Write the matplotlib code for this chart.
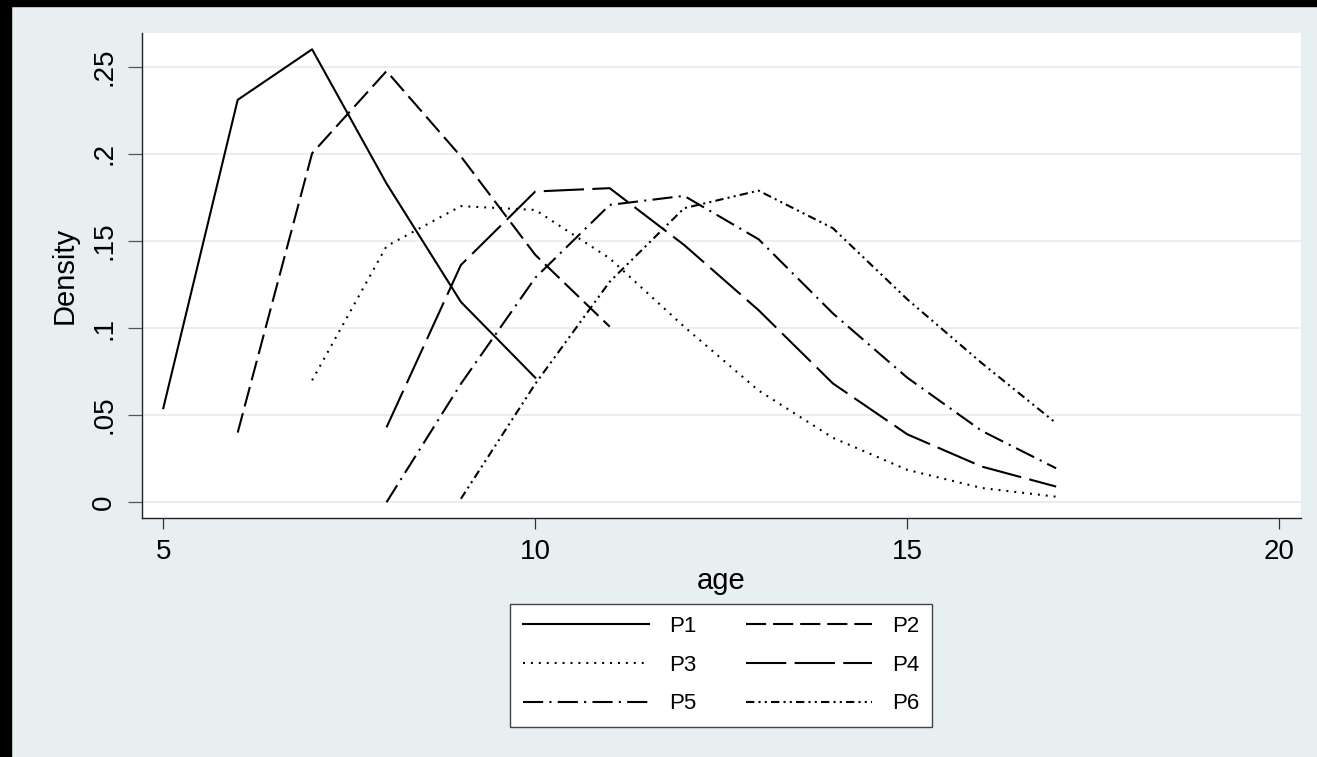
import numpy as np
import matplotlib
matplotlib.use('Agg')
import matplotlib.pyplot as plt
from matplotlib.patches import Rectangle

plt.rcParams['font.family'] = ['Liberation Sans', 'DejaVu Sans']
plt.rcParams['lines.scale_dashes'] = False

# ---------------- dati ----------------
age_p1 = [5, 6, 7, 8, 9, 10]
den_p1 = [0.054, 0.231, 0.260, 0.183, 0.115, 0.0715]

age_p2 = [6, 7, 8, 9, 10, 11]
den_p2 = [0.040, 0.2003, 0.2475, 0.1985, 0.142, 0.1008]

age_p3 = [7, 8, 9, 10, 11, 12, 13, 14, 15, 16, 17]
den_p3 = [0.070, 0.147, 0.170, 0.1678, 0.140, 0.1008, 0.0642, 0.0370, 0.0186, 0.0082, 0.0032]

age_p4 = [8, 9, 10, 11, 12, 13, 14, 15, 16, 17]
den_p4 = [0.0430, 0.1362, 0.1784, 0.1803, 0.1477, 0.1103, 0.0682, 0.0390, 0.0205, 0.009]

age_p5 = [8, 9, 10, 11, 12, 13, 14, 15, 16, 17]
den_p5 = [0.0, 0.068, 0.1289, 0.1707, 0.1759, 0.1510, 0.1084, 0.0715, 0.041, 0.0195]

age_p6 = [9, 10, 11, 12, 13, 14, 15, 16, 17]
den_p6 = [0.002, 0.068, 0.1266, 0.1688, 0.1789, 0.1573, 0.1165, 0.0799, 0.0454]

labels = ['P1', 'P2', 'P3', 'P4', 'P5', 'P6']
styles = ['-',
          (0, (14.5, 5.0)),
          (0, (1.4, 4.3)),
          (0, (29.0, 6.0)),
          (0, (14.5, 4.5, 1.5, 4.5)),
          (0, (6.0, 3.0, 1.5, 3.0, 1.5, 3.0))]

xticks = [5, 10, 15, 20]
yticks = [0, 0.05, 0.1, 0.15, 0.2, 0.25]
ytick_labels = ['0', '.05', '.1', '.15', '.2', '.25']

bg = '#e8eff1'

# ---------------- grafico ----------------
fig = plt.figure(figsize=(13.17, 7.57), dpi=100, facecolor=bg)
ax = fig.add_axes([0.10805, 0.31532, 0.87958, 0.64069])
ax.set_facecolor('white')

series = [(age_p1, den_p1), (age_p2, den_p2), (age_p3, den_p3),
          (age_p4, den_p4), (age_p5, den_p5), (age_p6, den_p6)]
lines = []
for (x, y), lab, ls in zip(series, labels, styles):
    l, = ax.plot(x, y, color='black', lw=1.5, linestyle=ls, label=lab)
    lines.append(l)

ax.set_xlim(4.718, 20.287)
ax.set_ylim(-0.0092, 0.2692)
ax.set_xticks(xticks)
ax.set_yticks(yticks)
ax.set_yticklabels(ytick_labels, rotation=90, va='center')
ax.grid(axis='y', color='#e4ecef', lw=1.2)
ax.set_axisbelow(True)

for s in ['top', 'right']:
    ax.spines[s].set_visible(False)
for s in ['left', 'bottom']:
    ax.spines[s].set_color('#222222')
    ax.spines[s].set_linewidth(1.0)

ax.tick_params(axis='x', length=8, width=0.9, color='#333333', pad=7, labelsize=20)
ax.tick_params(axis='y', length=10, width=0.9, color='#555555', pad=8, labelsize=20)

ax.set_xlabel('age', fontsize=21, labelpad=1)
ax.set_ylabel('Density', fontsize=21, labelpad=9)

# legenda per righe: P1 P2 / P3 P4 / P5 P6
order = [0, 2, 4, 1, 3, 5]
leg = fig.legend([lines[i] for i in order], [labels[i] for i in order],
                 loc='center', bbox_to_anchor=(0.5475, 0.1215), ncol=2,
                 fontsize=16, handlelength=5.7, handletextpad=0.9,
                 columnspacing=2.2, labelspacing=0.8, borderpad=0.55,
                 fancybox=False, framealpha=1, edgecolor='#444444')
leg.get_frame().set_linewidth(1.0)

# bordo nero dello screenshot (alto e sinistra)
fig.patches.append(Rectangle((0, 0), 11/1317, 1, transform=fig.transFigure,
                             color='black', zorder=10))
fig.patches.append(Rectangle((0, 1 - 6/757), 1, 6/757, transform=fig.transFigure,
                             color='black', zorder=10))

plt.savefig('out.png', dpi=100, facecolor=bg)
